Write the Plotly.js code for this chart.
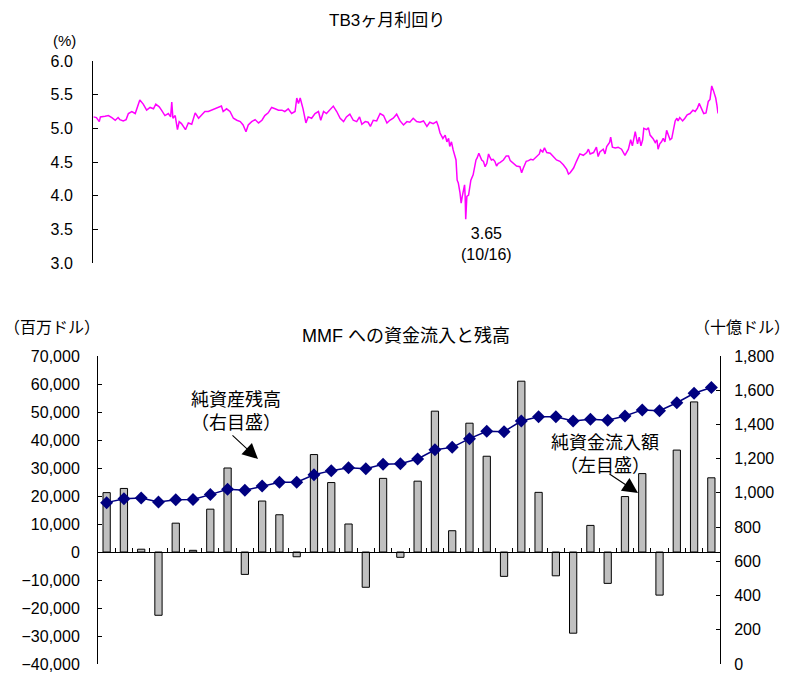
<!DOCTYPE html>
<html>
<head>
<meta charset="utf-8">
<script src="https://cdn.plot.ly/plotly-3.0.1.min.js"></script>
<style>
  html, body { margin: 0; padding: 0; background: #fff; }
  #chart { width: 792px; height: 674px; }
</style>
</head>
<body>
<div id="chart"></div>
<script>
// ---- TB 3-month yield (%), sampled along the daily series; day offset from 1997-01-01 ----
const tbDay = [
  1, 6, 11, 13, 21, 27, 33, 39, 44, 47, 53, 58, 62, 68, 74, 79, 82, 88, 94, 100,
  106, 110, 116, 120, 126, 132, 136, 138, 140, 144, 148, 151, 155, 162, 167, 173, 179, 185, 190, 196,
  202, 208, 214, 220, 225, 228, 234, 240, 246, 252, 258, 263, 268, 272, 278, 284, 290, 296, 301, 307,
  313, 319, 325, 331, 336, 342, 348, 354, 357, 360, 363, 368, 373, 377, 383, 389, 395, 399, 404, 409,
  415, 421, 427, 433, 439, 444, 450, 456, 462, 467, 471, 477, 482, 486, 491, 497, 503, 509, 515, 520,
  526, 532, 538, 544, 550, 555, 561, 567, 573, 579, 585, 590, 596, 602, 605, 608, 613, 617, 620, 623,
  625, 628, 631, 634, 636, 638, 640, 643, 645, 647, 649, 651, 652, 653, 655, 658, 662, 666, 671, 673,
  676, 678, 681, 684, 687, 690, 693, 696, 698, 701, 704, 707, 710, 713, 719, 724, 728, 731, 736, 742,
  748, 751, 754, 759, 763, 767, 771, 777, 782, 784, 788, 791, 795, 801, 806, 812, 818, 824, 830, 833,
  836, 842, 847, 853, 859, 865, 868, 871, 877, 882, 885, 888, 894, 897, 900, 905, 907, 910, 915, 920,
  926, 932, 938, 942, 945, 950, 954, 957, 960, 963, 965, 970, 973, 976, 981, 985, 988, 990, 993, 996,
  999, 1002, 1005, 1008, 1011, 1014, 1017, 1020, 1023, 1025, 1028, 1033, 1037, 1041, 1046, 1051, 1055, 1059, 1062, 1066,
  1070, 1074, 1078, 1081, 1084, 1087, 1090, 1091, 1093, 1095
];
const tbYield = [
  5.17, 5.16, 5.10, 5.17, 5.18, 5.19, 5.16, 5.12, 5.16, 5.13, 5.11, 5.13, 5.22, 5.25, 5.22, 5.35, 5.42, 5.36, 5.27, 5.31,
  5.29, 5.36, 5.32, 5.27, 5.19, 5.22, 5.17, 5.39, 5.15, 5.19, 4.98, 5.10, 5.07, 4.98, 5.08, 5.06, 5.23, 5.15, 5.19, 5.25,
  5.25, 5.27, 5.29, 5.31, 5.33, 5.25, 5.29, 5.25, 5.15, 5.12, 5.10, 5.05, 4.95, 5.05, 5.10, 5.13, 5.08, 5.12, 5.19, 5.23,
  5.31, 5.29, 5.27, 5.27, 5.25, 5.29, 5.22, 5.25, 5.45, 5.37, 5.45, 5.29, 5.08, 5.17, 5.15, 5.22, 5.25, 5.12, 5.25, 5.22,
  5.27, 5.33, 5.25, 5.15, 5.10, 5.17, 5.21, 5.12, 5.10, 5.17, 5.06, 5.10, 5.09, 5.03, 5.12, 5.11, 5.22, 5.19, 5.08, 5.12,
  5.15, 5.21, 5.11, 5.05, 5.10, 5.09, 5.15, 5.10, 5.09, 5.11, 5.03, 5.09, 5.07, 5.10, 5.03, 4.93, 4.85, 4.90, 4.80, 4.85,
  4.73, 4.80, 4.68, 4.56, 4.53, 4.23, 4.19, 4.04, 3.89, 3.99, 4.06, 4.16, 3.99, 3.65, 3.99, 4.01, 4.23, 4.31, 4.53, 4.56,
  4.63, 4.59, 4.53, 4.51, 4.43, 4.48, 4.62, 4.56, 4.53, 4.54, 4.51, 4.44, 4.48, 4.49, 4.53, 4.59, 4.59, 4.52, 4.48, 4.44,
  4.43, 4.34, 4.41, 4.51, 4.52, 4.54, 4.53, 4.58, 4.62, 4.68, 4.65, 4.71, 4.64, 4.63, 4.58, 4.53, 4.51, 4.46, 4.39, 4.32,
  4.34, 4.41, 4.51, 4.62, 4.60, 4.64, 4.69, 4.62, 4.64, 4.72, 4.58, 4.65, 4.69, 4.62, 4.73, 4.79, 4.87, 4.72, 4.71, 4.72,
  4.69, 4.60, 4.69, 4.83, 4.74, 4.95, 4.77, 4.87, 4.74, 4.83, 5.00, 4.98, 5.01, 4.90, 4.85, 4.79, 4.83, 4.69, 4.77, 4.80,
  4.85, 4.80, 4.97, 4.90, 4.83, 4.85, 4.98, 5.11, 5.15, 5.11, 5.16, 5.11, 5.15, 5.20, 5.22, 5.27, 5.25, 5.30, 5.37, 5.30,
  5.22, 5.23, 5.40, 5.43, 5.63, 5.56, 5.48, 5.45, 5.35, 5.22
];

// ---- MMF monthly flows and balances, 1997.1 - 1999.12 ----
const months = [
  '97.1', '97.2', '97.3', '97.4', '97.5', '97.6', '97.7', '97.8', '97.9', '97.10', '97.11', '97.12',
  '98.1', '98.2', '98.3', '98.4', '98.5', '98.6', '98.7', '98.8', '98.9', '98.10', '98.11', '98.12',
  '99.1', '99.2', '99.3', '99.4', '99.5', '99.6', '99.7', '99.8', '99.9', '99.10', '99.11', '99.12'
];
// net inflow, millions of dollars (left scale)
const netInflow = [
  21200, 22700, 1000, -22600, 10300, 600, 15300, 30000, -8000, 18200, 13300, -1700,
  34800, 24800, 10000, -12600, 26300, -1900, 25300, 50300, 7600, 46000, 34200, -8700,
  61000, 21300, -8500, -29000, 9500, -11200, 19800, 28000, -15400, 36400, 53600, 26500
];
// net assets, billions of dollars (right scale)
const netAssets = [
  943, 966, 970, 947, 960, 962, 990, 1021, 1015, 1040, 1062, 1062,
  1106, 1130, 1147, 1141, 1167, 1171, 1198, 1252, 1266, 1317, 1360, 1358,
  1420, 1445, 1445, 1420, 1430, 1424, 1449, 1485, 1480, 1527, 1582, 1616
];
// months that carry an axis label
const labelledMonths = ['97.1', '98.1', '99.1'];

// ---- helpers ----
const W = 792, H = 674;
const px = v => v / W;            // horizontal pixel -> paper fraction
const py = v => 1 - v / H;        // vertical pixel (from top) -> paper fraction
const DAY = 86400000;
const start = Date.UTC(1997, 0, 1);
const toDate = d => new Date(start + d * DAY).toISOString().slice(0, 10);
const tbDates = tbDay.map(toDate);

// lowest yield of the period, for the callout
let minIdx = 0;
tbYield.forEach((v, i) => { if (v < tbYield[minIdx]) minIdx = i; });
const minDate = new Date(start + tbDay[minIdx] * DAY);
const minText = tbYield[minIdx].toFixed(2) + '<br>(' +
  (minDate.getUTCMonth() + 1) + '/' + minDate.getUTCDate() + ')';

const FONT = 'Liberation Sans, Arial, Noto Sans CJK JP, sans-serif';

// ---- panel geometry ----
const topY = [py(263), py(61)];
const botY = [py(664), py(356)];
const leftRange = [-40000, 70000];
const rightRange = [0, 1800];
const zeroFrac = botY[0] + (0 - leftRange[0]) / (leftRange[1] - leftRange[0]) * (botY[1] - botY[0]);

const traces = [
  {
    type: 'scatter', mode: 'lines', x: tbDates, y: tbYield,
    xaxis: 'x', yaxis: 'y',
    line: { color: '#FF00FF', width: 1.5 },
    hoverinfo: 'skip'
  },
  {
    type: 'bar', x: months, y: netInflow,
    xaxis: 'x2', yaxis: 'y2',
    width: 0.42,
    marker: { color: '#C0C0C0', line: { color: '#000000', width: 1 } },
    hoverinfo: 'skip'
  },
  {
    type: 'scatter', mode: 'lines+markers', x: months, y: netAssets,
    xaxis: 'x2', yaxis: 'y3',
    line: { color: '#000080', width: 1.5 },
    marker: { symbol: 'diamond', size: 10, color: '#000080' },
    hoverinfo: 'skip'
  }
];

// centred text label placed at a pixel position of the page
const label = (text, x, y, size) => ({
  text: text, xref: 'paper', yref: 'paper', x: px(x), y: py(y),
  xanchor: 'center', yanchor: 'middle', showarrow: false, font: { size: size }
});
// arrow drawn from a pixel offset to a tip position
const pointer = (x, y, ax, ay) => ({
  text: '', xref: 'paper', yref: 'paper', x: px(x), y: py(y), ax: ax, ay: ay,
  showarrow: true, arrowhead: 2, arrowsize: 2.8, arrowwidth: 1.1, arrowcolor: '#000'
});

const annotations = [
  label('TB3ヶ月利回り', 387, 20, 17),
  label('(%)', 64, 40, 15),
  { text: minText, xref: 'x', yref: 'y', x: toDate(tbDay[minIdx]), y: tbYield[minIdx],
    xanchor: 'center', yanchor: 'top', xshift: 21, yshift: -4,
    showarrow: false, font: { size: 16 } },
  label('MMF への資金流入と残高', 406, 336, 18),
  label('（百万ドル）', 52, 328, 16),
  label('（十億ドル）', 742, 328, 16),
  label('純資産残高<br>（右目盛）', 236, 411, 18),
  label('純資金流入額<br>（左目盛）', 605, 454, 18),
  pointer(258, 459, -27, -25),
  pointer(638, 493, -30, -20)
];
// month labels sitting just below the zero line
labelledMonths.forEach(m => {
  annotations.push({ text: m, xref: 'x2', yref: 'y2', x: m, y: 0,
    xanchor: 'center', yanchor: 'top', yshift: -17, showarrow: false, font: { size: 16 } });
});

const axisBase = { showgrid: false, zeroline: false, color: '#000', linecolor: '#000',
  linewidth: 1, tickcolor: '#000', tickwidth: 1, tickfont: { size: 16 } };

const layout = {
  width: W, height: H,
  margin: { l: 0, r: 0, t: 0, b: 0, pad: 0 },
  paper_bgcolor: '#fff', plot_bgcolor: 'rgba(0,0,0,0)',
  font: { family: FONT, color: '#000', size: 16 },
  showlegend: false,
  xaxis: Object.assign({}, axisBase, {
    domain: [px(93), px(718)], anchor: 'y', type: 'date',
    range: [toDate(0), toDate(1095)],
    showline: false, showticklabels: false, ticks: ''
  }),
  yaxis: Object.assign({}, axisBase, {
    domain: topY, anchor: 'x', range: [3, 6], dtick: 0.5, tick0: 3,
    tickformat: '.1f', showline: true, ticks: 'inside', ticklen: 5,
    ticklabelstandoff: 16
  }),
  xaxis2: Object.assign({}, axisBase, {
    domain: [px(98), px(720)], anchor: 'free', position: zeroFrac, type: 'category',
    range: [-0.5, months.length - 0.5], tickmode: 'linear', dtick: 1,
    tickson: 'boundaries', ticks: 'inside', ticklen: 4,
    showline: true, showticklabels: false
  }),
  yaxis2: Object.assign({}, axisBase, {
    domain: botY, anchor: 'x2', range: leftRange, dtick: 10000, tick0: 0,
    tickformat: ',d', showline: true, ticks: 'inside', ticklen: 4,
    ticklabelstandoff: 14
  }),
  yaxis3: Object.assign({}, axisBase, {
    domain: botY, anchor: 'x2', overlaying: 'y2', side: 'right',
    range: rightRange, dtick: 200, tick0: 0,
    tickformat: ',d', showline: true, ticks: 'inside', ticklen: 4,
    ticklabelstandoff: 10
  }),
  annotations: annotations
};

Plotly.newPlot('chart', traces, layout, { staticPlot: true, displayModeBar: false });
</script>
</body>
</html>
